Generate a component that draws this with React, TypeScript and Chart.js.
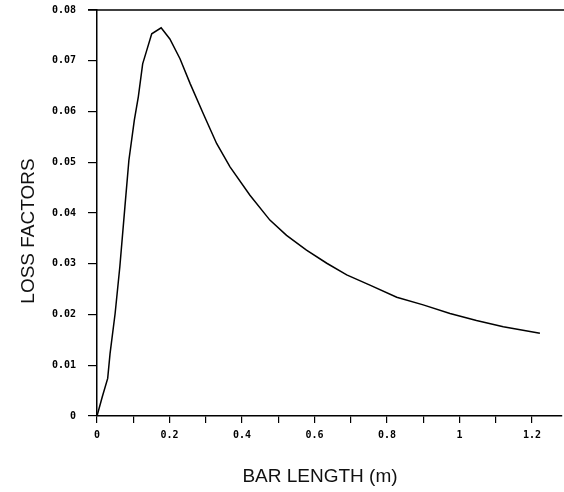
import React, { useEffect, useRef } from "react";
import { Chart, registerables } from "chart.js";

Chart.register(...registerables);

const barLength = [0, 0.0146, 0.0295, 0.036, 0.05, 0.063, 0.077, 0.088, 0.103, 0.114, 0.126, 0.137, 0.151, 0.177, 0.201, 0.229, 0.257, 0.293, 0.33, 0.367, 0.422, 0.477, 0.523, 0.578, 0.634, 0.689, 0.753, 0.827, 0.9, 0.974, 1.047, 1.121, 1.222];
const lossFactors = [0, 0.0038, 0.0074, 0.0123, 0.0202, 0.0294, 0.0412, 0.0504, 0.0583, 0.0629, 0.0694, 0.072, 0.0753, 0.0765, 0.0743, 0.0704, 0.0655, 0.0596, 0.0537, 0.0491, 0.0435, 0.0386, 0.0356, 0.0327, 0.0301, 0.0278, 0.0258, 0.0234, 0.0219, 0.0202, 0.0188, 0.0176, 0.0163];
const xTickValues = [0, 0.1, 0.2, 0.3, 0.4, 0.5, 0.6, 0.7, 0.8, 0.9, 1.0, 1.1, 1.2];
const xTickLabels = ["0", "", "0.2", "", "0.4", "", "0.6", "", "0.8", "", "1", "", "1.2"];
const yTickLabels = ["0", "0.01", "0.02", "0.03", "0.04", "0.05", "0.06", "0.07", "0.08"];
const xTitle = "BAR LENGTH (m)";
const yTitle = "LOSS FACTORS";

const framePlugin = {
  id: "frame",
  afterDraw(chart: any) {
    const { ctx, chartArea } = chart;
    ctx.save();
    ctx.strokeStyle = "#000";
    ctx.lineWidth = 1.5;
    ctx.beginPath();
    ctx.moveTo(chartArea.left - 9, chartArea.top);
    ctx.lineTo(chart.width, chartArea.top);
    ctx.stroke();
    ctx.fillStyle = "#111";
    ctx.font = "19px 'Liberation Sans', Arial, sans-serif";
    ctx.textAlign = "center";
    ctx.textBaseline = "alphabetic";
    ctx.fillText(xTitle, 320, 482);
    ctx.translate(34, 231);
    ctx.rotate(-Math.PI / 2);
    ctx.fillText(yTitle, 0, 0);
    ctx.restore();
  },
};

export default function App() {
  const ref = useRef<HTMLCanvasElement>(null);
  useEffect(() => {
    document.body.style.margin = "0";
    const data = barLength.map((x, i) => ({ x, y: lossFactors[i] }));
    const tickFont = { family: "'DejaVu Sans Mono', monospace", size: 10, weight: "bold" as const };
    const chart = new Chart(ref.current!, {
      type: "line",
      data: {
        datasets: [
          {
            data,
            borderColor: "#000",
            borderWidth: 1.5,
            pointRadius: 0,
            tension: 0,
            fill: false,
          },
        ],
      },
      options: {
        animation: false,
        responsive: false,
        layout: { padding: { top: 10, right: 2, left: 0, bottom: 0 }, autoPadding: false },
        plugins: { legend: { display: false }, tooltip: { enabled: false }, title: { display: false } },
        scales: {
          x: {
            type: "linear",
            min: 0,
            max: 1.283,
            afterBuildTicks: (s: any) => {
              s.ticks = xTickValues.map((v) => ({ value: v }));
            },
            afterFit: (s: any) => {
              s.height = 76;
              s.paddingLeft = 0;
              s.paddingRight = 0;
            },
            grid: { drawOnChartArea: false, drawTicks: true, tickLength: 7, color: "#000", lineWidth: 1.2 },
            border: { display: true, color: "#000", width: 1.5 },
            ticks: {
              color: "#000",
              font: tickFont,
              padding: 6,
              maxRotation: 0,
              autoSkip: false,
              callback: (_v: any, i: number) => xTickLabels[i],
            },
          },
          y: {
            type: "linear",
            min: 0,
            max: 0.08,
            afterBuildTicks: (s: any) => {
              s.ticks = yTickLabels.map((_l, i) => ({ value: i * 0.01 }));
            },
            afterFit: (s: any) => {
              s.width = 97;
              s.paddingTop = 0;
              s.paddingBottom = 0;
            },
            grid: { drawOnChartArea: false, drawTicks: true, tickLength: 9, color: "#000", lineWidth: 1.2 },
            border: { display: true, color: "#000", width: 1.5 },
            ticks: {
              color: "#000",
              font: tickFont,
              padding: 12,
              autoSkip: false,
              callback: (_v: any, i: number) => yTickLabels[i],
            },
          },
        },
      },
      plugins: [framePlugin],
    });
    return () => chart.destroy();
  }, []);
  return (
    <div style={{ position: "relative", width: 564, height: 492, background: "#fff" }}>
      <canvas ref={ref} width={564} height={492} style={{ width: 564, height: 492 }} />
    </div>
  );
}
